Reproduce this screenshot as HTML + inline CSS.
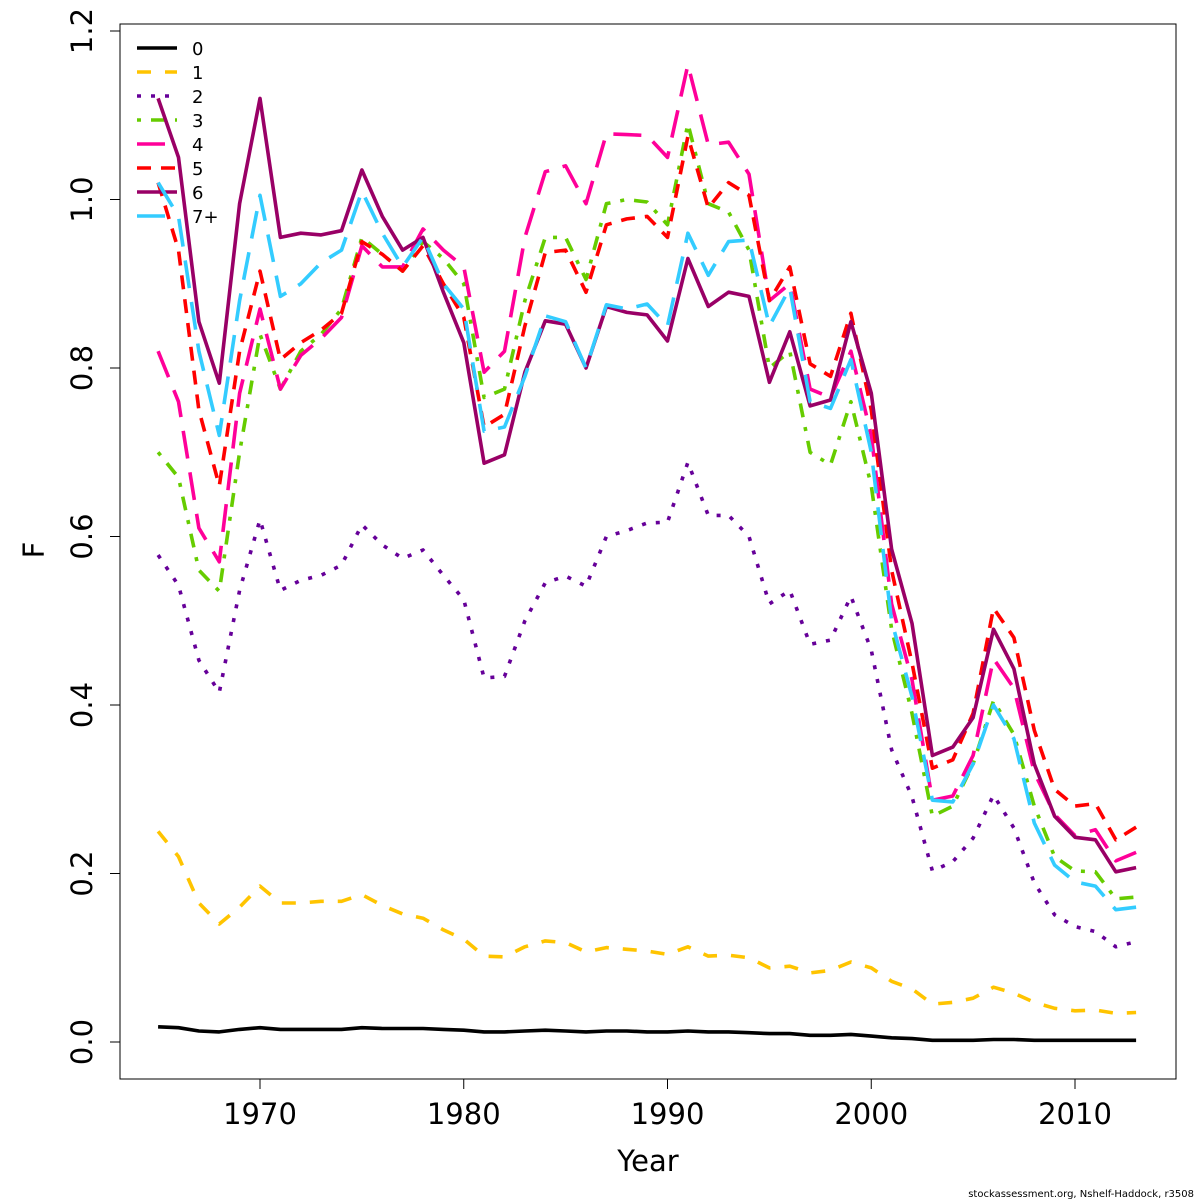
<!DOCTYPE html>
<html><head><meta charset="utf-8"><style>
html,body{margin:0;padding:0;background:#fff;}
svg{display:block;font-family:"DejaVu Sans","Liberation Sans",sans-serif;}
</style></head><body>
<svg id="chart" width="1200" height="1200" viewBox="0 0 1200 1200" xmlns="http://www.w3.org/2000/svg">
<rect x="0" y="0" width="1200" height="1200" fill="#fff"/>
<g id="plot"></g>
</svg>
<script>
const years = [1965,1966,1967,1968,1969,1970,1971,1972,1973,1974,1975,1976,1977,1978,1979,1980,1981,1982,1983,1984,1985,1986,1987,1988,1989,1990,1991,1992,1993,1994,1995,1996,1997,1998,1999,2000,2001,2002,2003,2004,2005,2006,2007,2008,2009,2010,2011,2012,2013];
const age0 = [0.018,0.017,0.013,0.012,0.015,0.017,0.015,0.015,0.015,0.015,0.017,0.016,0.016,0.016,0.015,0.014,0.012,0.012,0.013,0.014,0.013,0.012,0.013,0.013,0.012,0.012,0.013,0.012,0.012,0.011,0.010,0.010,0.008,0.008,0.009,0.007,0.005,0.004,0.002,0.002,0.002,0.003,0.003,0.002,0.002,0.002,0.002,0.002,0.002];
const age1 = [0.25,0.22,0.165,0.14,0.16,0.185,0.165,0.165,0.167,0.167,0.175,0.162,0.152,0.147,0.133,0.122,0.102,0.101,0.113,0.12,0.118,0.107,0.112,0.11,0.108,0.104,0.113,0.102,0.103,0.1,0.088,0.09,0.082,0.085,0.095,0.088,0.072,0.063,0.045,0.047,0.052,0.065,0.058,0.047,0.04,0.037,0.038,0.034,0.035];
const age2 = [0.578,0.542,0.453,0.415,0.536,0.62,0.536,0.548,0.554,0.566,0.614,0.59,0.574,0.584,0.554,0.525,0.432,0.434,0.5,0.545,0.553,0.541,0.6,0.607,0.616,0.617,0.688,0.625,0.625,0.6,0.52,0.536,0.472,0.477,0.529,0.465,0.347,0.291,0.203,0.214,0.242,0.293,0.254,0.189,0.151,0.137,0.131,0.113,0.119];
const age3 = [0.70,0.67,0.56,0.535,0.70,0.84,0.775,0.82,0.84,0.87,0.955,0.935,0.915,0.95,0.93,0.90,0.765,0.775,0.88,0.955,0.955,0.905,0.995,1.0,0.997,0.97,1.09,0.995,0.985,0.94,0.80,0.82,0.70,0.685,0.76,0.66,0.49,0.39,0.268,0.28,0.33,0.405,0.365,0.28,0.22,0.203,0.202,0.17,0.172];
const age4 = [0.82,0.76,0.61,0.57,0.77,0.87,0.775,0.815,0.835,0.86,0.945,0.92,0.92,0.965,0.94,0.92,0.795,0.82,0.955,1.033,1.04,0.995,1.078,1.077,1.076,1.05,1.16,1.065,1.068,1.03,0.88,0.90,0.775,0.765,0.82,0.72,0.52,0.43,0.287,0.292,0.34,0.455,0.42,0.32,0.27,0.245,0.252,0.215,0.225];
const age5 = [1.02,0.94,0.75,0.66,0.82,0.915,0.81,0.83,0.845,0.865,0.95,0.935,0.915,0.945,0.90,0.86,0.73,0.745,0.85,0.937,0.94,0.89,0.97,0.977,0.98,0.955,1.075,0.99,1.02,1.005,0.88,0.92,0.805,0.79,0.865,0.75,0.56,0.45,0.325,0.335,0.39,0.515,0.48,0.37,0.30,0.28,0.283,0.24,0.255];
const age6 = [1.12,1.05,0.855,0.782,0.995,1.12,0.955,0.96,0.958,0.963,1.035,0.98,0.94,0.955,0.89,0.83,0.687,0.697,0.795,0.856,0.852,0.80,0.873,0.866,0.863,0.832,0.93,0.873,0.89,0.885,0.783,0.843,0.755,0.762,0.855,0.77,0.585,0.497,0.34,0.35,0.385,0.49,0.443,0.33,0.268,0.243,0.24,0.202,0.207];
const age7 = [1.02,0.98,0.82,0.72,0.88,1.005,0.885,0.90,0.925,0.94,1.01,0.96,0.92,0.955,0.90,0.87,0.725,0.73,0.79,0.862,0.855,0.80,0.875,0.87,0.876,0.85,0.96,0.91,0.95,0.952,0.85,0.895,0.76,0.752,0.81,0.70,0.50,0.41,0.287,0.285,0.33,0.40,0.36,0.26,0.21,0.19,0.185,0.157,0.16];
const seriesLabels = ["0","1","2","3","4","5","6","7+"];
const xTicks = [1970,1980,1990,2000,2010];
const yTicks = [0.0,0.2,0.4,0.6,0.8,1.0,1.2];

const NS="http://www.w3.org/2000/svg";
const g=document.getElementById('plot');
const L=120,R=1176,T=24,B=1079;
function xs(y){return 260+(y-1970)*20.375;}
function ys(v){return 1042-v*842.5;}
function mk(tag,attrs){const e=document.createElementNS(NS,tag);for(const k in attrs)e.setAttribute(k,attrs[k]);g.appendChild(e);return e;}

const box=mk('rect',{x:L,y:T,width:R-L,height:B-T,fill:'none',stroke:'#000','stroke-width':1});



xTicks.forEach(t=>{
  const l=mk('line',{x1:xs(t),x2:xs(t),y1:B,y2:B+10,stroke:'#000'});
  
  
  const tx=mk('text',{x:xs(t),y:1124,'font-size':29,'text-anchor':'middle'});
  tx.textContent=t;
  
  
});
yTicks.forEach(t=>{
  const l=mk('line',{x1:L-10,x2:L,y1:ys(t),y2:ys(t),stroke:'#000'});
  
  
  const tx=mk('text',{x:0,y:0,'font-size':29,'text-anchor':'middle',transform:`translate(92,${ys(t)}) rotate(-90)`});
  tx.textContent=t.toFixed(1);
  
  
});
const xt=mk('text',{x:648,y:1171,'font-size':29,'text-anchor':'middle'});
xt.textContent='Year';


const yt=mk('text',{x:0,y:0,'font-size':29,'text-anchor':'middle',transform:'translate(44,550) rotate(-90)'});
yt.textContent='F';


const ft=mk('text',{x:1194,y:1197,'font-size':10,'text-anchor':'end'});
ft.textContent='stockassessment.org, Nshelf-Haddock, r3508';



const data=[age0,age1,age2,age3,age4,age5,age6,age7];
const colors=['#000000','#FFC400','#660099','#66CC00','#FF0099','#FF0000','#990066','#33CCFF'];
const dashes=['none','14 14','4 10','4 10 14 10','28 14','14 10','none','28 14'];
data.forEach((s,i)=>{
  const d=s.map((v,j)=>(j?'L':'M')+xs(years[j]).toFixed(1)+' '+ys(v).toFixed(1)).join(' ');
  const p=mk('path',{d:d,fill:'none',stroke:colors[i],'stroke-width':3.6,'stroke-dasharray':dashes[i],'stroke-linejoin':'round'});
  
  
  const ly=48+i*24;
  const ll=mk('line',{x1:137,x2:177,y1:ly,y2:ly,stroke:colors[i],'stroke-width':3.6,'stroke-dasharray':dashes[i]});
  
  
  const lt=mk('text',{x:192,y:ly+7,'font-size':18});
  lt.textContent=seriesLabels[i];
  
  
});
</script>
</body></html>
